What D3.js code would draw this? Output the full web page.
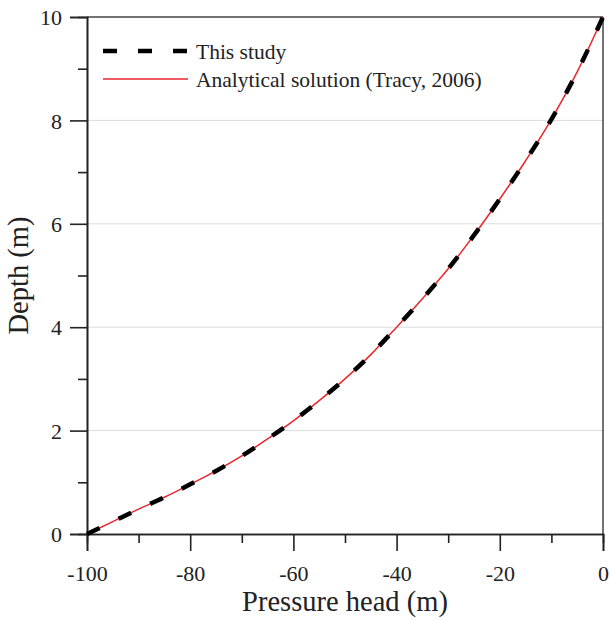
<!DOCTYPE html>
<html><head><meta charset="utf-8">
<script src="https://cdn.jsdelivr.net/npm/d3@7"></script>
<style>body{margin:0;background:#fff}svg{display:block}</style>
</head><body>
<svg id="c" width="610" height="620"></svg>
<script>
const pressureHead = [-100,-95,-90,-85,-80,-75,-70,-65,-60,-55,-50,-45,-40,-35,-30,-25,-20,-15,-10,-5,0];
const depthAnalytical = [0,0.24,0.48,0.71,0.96,1.22,1.51,1.84,2.19,2.58,3.00,3.47,4.00,4.55,5.13,5.78,6.48,7.22,8.02,8.94,10.0];
const depthThisStudy = [0,0.24,0.48,0.71,0.96,1.22,1.51,1.84,2.19,2.58,3.00,3.47,4.00,4.55,5.13,5.78,6.48,7.22,8.02,8.94,10.0];
const xTicks = [-100,-80,-60,-40,-20,0];
const yTicks = [0,2,4,6,8,10];
const legendLabels = ["This study","Analytical solution (Tracy, 2006)"];

const svg = d3.select("#c");
const L=87, R=603, T=17, B=534;
const x = d3.scaleLinear().domain([-100,0]).range([L,R]);
const y = d3.scaleLinear().domain([0,10]).range([B,T]);
const font = "'Liberation Serif', 'Times New Roman', serif";
const fmt = d => String(d);

// grid
svg.append("g").selectAll("line").data([2,4,6,8]).join("line")
  .attr("x1",L).attr("x2",R).attr("y1",d=>y(d)).attr("y2",d=>y(d))
  .attr("stroke","#dcdcdc").attr("stroke-width",1);

// frame top/right
svg.append("line").attr("x1",L).attr("x2",R).attr("y1",T).attr("y2",T).attr("stroke","#444").attr("stroke-width",1.5);
svg.append("line").attr("x1",R).attr("x2",R).attr("y1",T).attr("y2",B).attr("stroke","#444").attr("stroke-width",1.5);

// axes
const xAxis = svg.append("g").attr("transform",`translate(0,${B})`)
  .call(d3.axisBottom(x).tickValues(xTicks).tickSize(17).tickPadding(11).tickFormat(fmt));
const xMinor = svg.append("g").attr("transform",`translate(0,${B})`)
  .call(d3.axisBottom(x).tickValues([-90,-70,-50,-30,-10]).tickSize(9).tickFormat(""));
const yAxis = svg.append("g").attr("transform",`translate(${L},0)`)
  .call(d3.axisLeft(y).tickValues(yTicks).tickSize(17).tickPadding(8).tickFormat(fmt));
const yMinor = svg.append("g").attr("transform",`translate(${L},0)`)
  .call(d3.axisLeft(y).tickValues([1,3,5,7,9]).tickSize(9).tickFormat(""));
[xAxis,xMinor,yAxis,yMinor].forEach(g=>{
  g.select(".domain").attr("stroke","#222").attr("stroke-width",1.6);
  g.selectAll(".tick line").attr("stroke","#222").attr("stroke-width",1.6);
  g.selectAll("text").attr("font-family",font).attr("font-size",22).attr("fill","#222");
});
xAxis.selectAll("text").attr("dy","0.85em");
yAxis.selectAll("text").attr("dy","0.35em");

// lines
const lineGen = d3.line().x(d=>x(d[0])).y(d=>y(d[1])).curve(d3.curveMonotoneX);
svg.append("path").datum(pressureHead.map((h,i)=>[h,depthAnalytical[i]]))
  .attr("d",lineGen).attr("fill","none").attr("stroke","#e8262e").attr("stroke-width",1.5);
svg.append("path").datum(pressureHead.map((h,i)=>[h,depthThisStudy[i]]))
  .attr("d",lineGen).attr("fill","none").attr("stroke","#000").attr("stroke-width",4.5)
  .attr("stroke-dasharray","14,21");

// legend
const lg = svg.append("g");
lg.append("line").attr("x1",103).attr("x2",188).attr("y1",51).attr("y2",51)
  .attr("stroke","#000").attr("stroke-width",4.5).attr("stroke-dasharray","14,21");
lg.append("line").attr("x1",103).attr("x2",188).attr("y1",79).attr("y2",79)
  .attr("stroke","#e8262e").attr("stroke-width",1.5);
lg.selectAll("text").data(legendLabels).join("text")
  .attr("x",196).attr("y",(d,i)=>51+i*28).attr("dy","0.35em")
  .attr("font-family",font).attr("font-size",21.5).attr("fill","#222").text(d=>d);

// titles
svg.append("text").attr("x",(L+R)/2).attr("y",611).attr("text-anchor","middle")
  .attr("font-family",font).attr("font-size",28.5).attr("fill","#222").text("Pressure head (m)");
svg.append("text").attr("transform",`translate(28,${(T+B)/2}) rotate(-90)`).attr("text-anchor","middle")
  .attr("font-family",font).attr("font-size",28.5).attr("fill","#222").text("Depth (m)");
</script>
</body></html>
